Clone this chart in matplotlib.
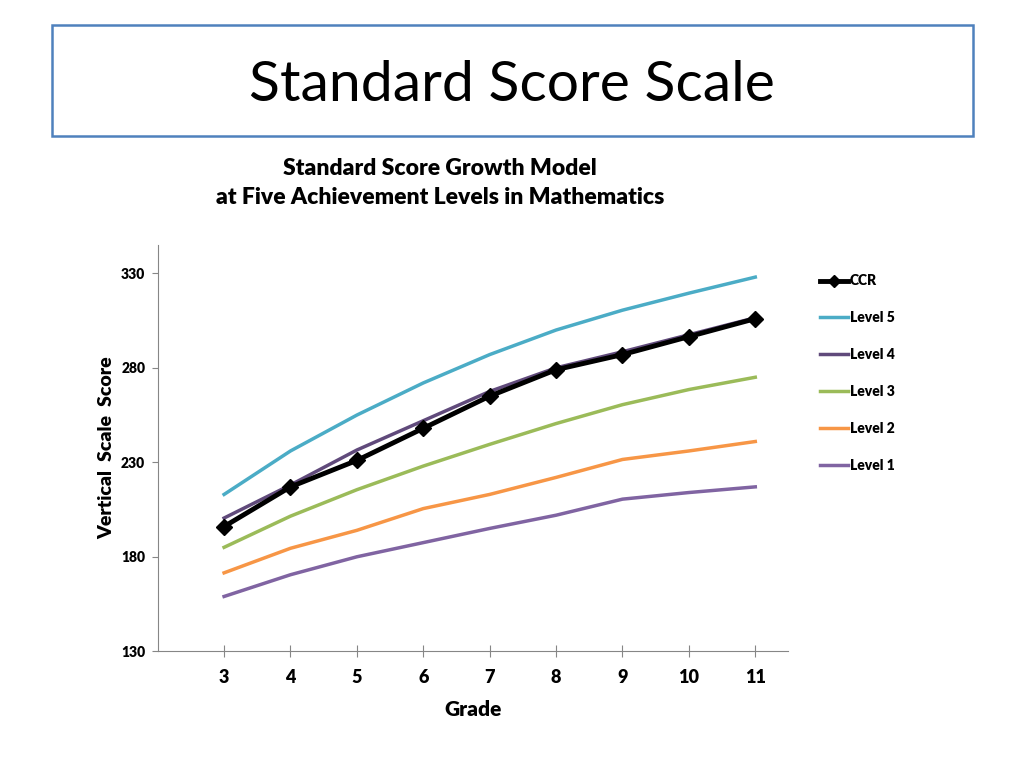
import matplotlib.pyplot as plt
from matplotlib.patches import Rectangle

grades = [3, 4, 5, 6, 7, 8, 9, 10, 11]
ccr = [196, 217, 231, 248, 265, 279, 287, 296.5, 306]
level5 = [213, 236, 255, 272, 287, 300, 310.5, 319.5, 328]
level4 = [200.5, 218, 236.5, 252, 267.5, 280, 288.5, 297.5, 306.5]
level3 = [185, 201.5, 215.5, 228, 239.5, 250.5, 260.5, 268.5, 275]
level2 = [171.5, 184.5, 194, 205.5, 213, 222, 231.5, 236, 241]
level1 = [159, 170.5, 180, 187.5, 195, 202, 210.5, 214, 217]
yticks = [130, 180, 230, 280, 330]

plt.rcParams['font.family'] = ['Lato', 'DejaVu Sans']

fig = plt.figure(figsize=(10.24, 7.68), dpi=100)

# title box
fig.patches.append(Rectangle((0.051, 0.823), 0.899, 0.145, transform=fig.transFigure,
                             fill=False, edgecolor='#4F81BD', linewidth=1.8))
fig.text(0.5, 0.889, "Standard Score Scale", ha='center', va='center', fontsize=41)
fig.text(0.43, 0.762, "Standard Score Growth Model\nat Five Achievement Levels in Mathematics",
         ha='center', va='center', fontsize=16.5, fontweight='heavy', linespacing=1.5)

ax = fig.add_axes([0.154, 0.152, 0.616, 0.529])
ax.plot(grades, level5, color='#4BACC6', lw=2.5, label='Level 5', zorder=2)
ax.plot(grades, level4, color='#604A7B', lw=2.5, label='Level 4', zorder=3)
ax.plot(grades, level3, color='#9BBB59', lw=2.5, label='Level 3', zorder=2)
ax.plot(grades, level2, color='#F79646', lw=2.5, label='Level 2', zorder=2)
ax.plot(grades, level1, color='#8064A2', lw=2.5, label='Level 1', zorder=2)
ax.plot(grades, ccr, color='black', lw=3.5, marker='D', markersize=8, label='CCR', zorder=4)

ax.set_xlim(2, 11.5)
ax.set_ylim(130, 345)
ax.set_xticks(grades)
ax.set_xticklabels([str(g) for g in grades], fontweight='heavy', fontsize=13)
ax.set_yticks(yticks)
ax.set_yticklabels([str(t) for t in yticks], fontweight='heavy', fontsize=10)
ax.tick_params(axis='x', direction='inout', length=8, color='#868686', pad=9)
ax.tick_params(axis='y', direction='out', length=4, color='#868686', pad=5)
for s in ['top', 'right']:
    ax.spines[s].set_visible(False)
for s in ['left', 'bottom']:
    ax.spines[s].set_color('#868686')
ax.set_xlabel("Grade", fontweight='heavy', fontsize=15, labelpad=10)
ax.set_ylabel("Vertical  Scale  Score", fontweight='heavy', fontsize=14, labelpad=4)

handles, labels = ax.get_legend_handles_labels()
order = [5, 0, 1, 2, 3, 4]
leg = fig.legend([handles[i] for i in order], [labels[i] for i in order],
                 loc='upper left', bbox_to_anchor=(0.789, 0.659), frameon=False,
                 prop={'weight': 'heavy', 'size': 10}, labelspacing=1.72,
                 handlelength=2.0, handletextpad=0.1, markerscale=0.8)

fig.savefig('out.png', dpi=100)
